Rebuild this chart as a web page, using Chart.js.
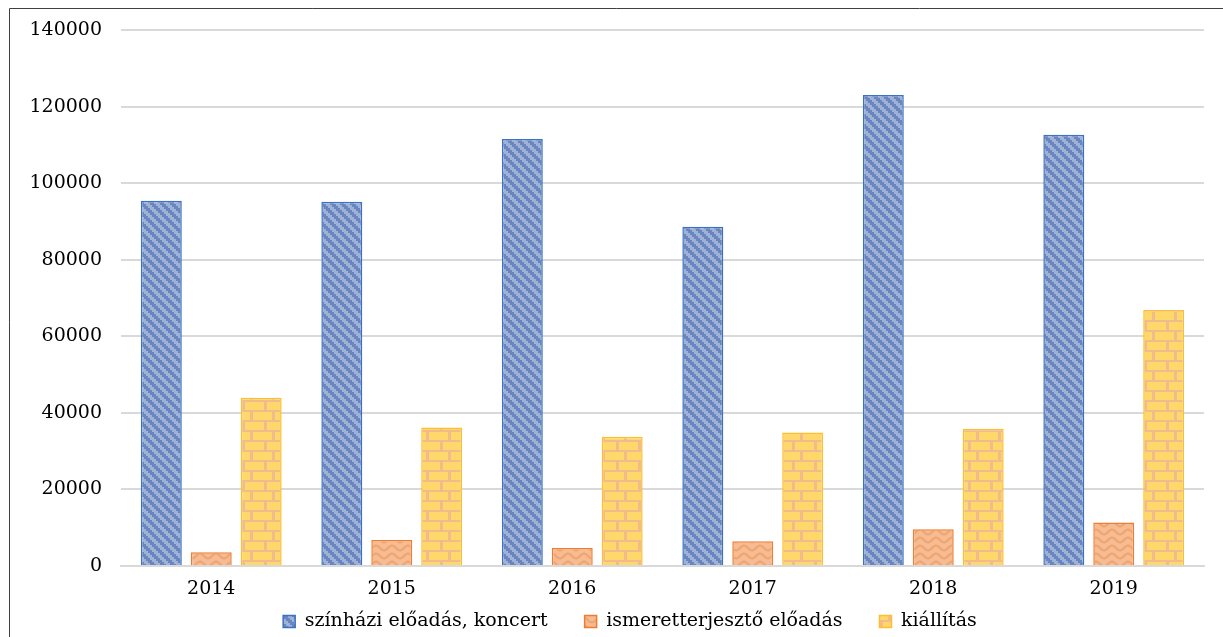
<!DOCTYPE html>
<html>
<head>
<meta charset="utf-8">
<script src="https://cdn.jsdelivr.net/npm/chart.js@4"></script>
<style>
html,body{margin:0;padding:0;background:#fff;}
#wrap{position:relative;width:1223px;height:637px;}
</style>
</head>
<body>
<div id="wrap"><canvas id="c" width="1223" height="637"></canvas></div>
<script>
const categories = ['2014','2015','2016','2017','2018','2019'];
const seriesNames = ['színházi előadás, koncert','ismeretterjesztő előadás','kiállítás'];
const szinhazi = [95500, 95200, 111600, 88700, 123100, 112700];
const ismeretterjeszto = [3600, 6800, 4700, 6500, 9600, 11400];
const kiallitas = [44000, 36200, 33800, 34900, 35900, 66900];
const yTicks = [0, 20000, 40000, 60000, 80000, 100000, 120000, 140000];

function makeTile(w, h, draw) {
  const t = document.createElement('canvas');
  t.width = w; t.height = h;
  const g = t.getContext('2d');
  draw(g, w, h);
  return document.getElementById('c').getContext('2d').createPattern(t, 'repeat');
}
const bluePat = makeTile(10, 10, (g, w, h) => {
  g.fillStyle = '#a0b1d6'; g.fillRect(0, 0, w, h);
  g.fillStyle = '#6986c1';
  for (let x = 0; x < w; x++) {
    for (let k = 0; k < 5; k++) {
      const y = (Math.floor(x / 2) * 2 + k) % h;
      g.fillRect(x, y, 1, 1);
    }
  }
});
const orangePat = makeTile(16, 8, (g, w, h) => {
  g.fillStyle = '#f6bb91'; g.fillRect(0, 0, w, h);
  g.strokeStyle = '#efa470'; g.lineWidth = 2;
  g.beginPath();
  for (let x = 0; x <= w; x++) {
    const y = 4 + 2.5 * Math.cos(x / w * Math.PI * 2);
    if (x === 0) g.moveTo(x, y); else g.lineTo(x, y);
  }
  g.stroke();
});
const yellowPat = makeTile(22, 20, (g, w, h) => {
  g.fillStyle = '#f2bb8c'; g.fillRect(0, 0, w, h);
  g.fillStyle = '#ffd86c';
  g.fillRect(3, 2, 19, 8);
  g.fillRect(0, 12, 8, 8);
  g.fillRect(11, 12, 11, 8);
});

const fontFam = '"DejaVu Serif", "Liberation Serif", serif';

const borderPlugin = {
  id: 'outerBorder',
  beforeDraw(chart) {
    const ctx = chart.ctx;
    ctx.save();
    ctx.fillStyle = '#ffffff';
    ctx.fillRect(0, 0, chart.width, chart.height);
    ctx.strokeStyle = '#404040';
    ctx.lineWidth = 1;
    ctx.beginPath();
    ctx.moveTo(9.5, chart.height);
    ctx.lineTo(9.5, 8.5);
    ctx.lineTo(chart.width, 8.5);
    ctx.stroke();
    ctx.restore();
  }
};
const legendShift = {
  id: 'legendShift',
  afterLayout(chart) {
    const lg = chart.legend;
    if (!lg) return;
    const dy = 575 - lg.top;
    lg.top += dy; lg.bottom += dy;
    lg.left += 28; lg.right += 28;
  }
};

new Chart(document.getElementById('c'), {
  type: 'bar',
  data: {
    labels: categories,
    datasets: [
      { label: seriesNames[0], data: szinhazi, backgroundColor: bluePat, borderColor: '#3a72c4', borderWidth: 1.5 },
      { label: seriesNames[1], data: ismeretterjeszto, backgroundColor: orangePat, borderColor: '#ef7d31', borderWidth: 1.5 },
      { label: seriesNames[2], data: kiallitas, backgroundColor: yellowPat, borderColor: '#fdbf2d', borderWidth: 1.5 }
    ]
  },
  options: {
    responsive: false,
    animation: false,
    devicePixelRatio: 1,
    layout: { padding: { top: 18, right: 19, left: 0, bottom: -35 } },
    categoryPercentage: 0.83,
    barPercentage: 0.82,
    plugins: {
      legend: {
        position: 'bottom',
        labels: {
          boxWidth: 12, boxHeight: 12, padding: 37,
          color: '#000', font: { family: fontFam, size: 19 }
        }
      },
      tooltip: { enabled: false }
    },
    scales: {
      x: {
        afterFit(scale) { scale.height = 40; },
        grid: { display: false, drawTicks: false },
        border: { display: true, color: '#d9d9d9', width: 2 },
        ticks: { color: '#000', padding: 12, font: { family: fontFam, size: 19 } }
      },
      y: {
        min: 0, max: 140000,
        afterBuildTicks(scale) { scale.ticks = yTicks.map(v => ({ value: v })); },
        afterFit(scale) { scale.width = 121; },
        grid: { color: '#d9d9d9', lineWidth: 2, drawTicks: false },
        border: { display: false },
        ticks: { color: '#000', padding: 19, font: { family: fontFam, size: 19 }, callback: v => String(v) }
      }
    }
  },
  plugins: [borderPlugin, legendShift]
});
</script>
</body>
</html>
